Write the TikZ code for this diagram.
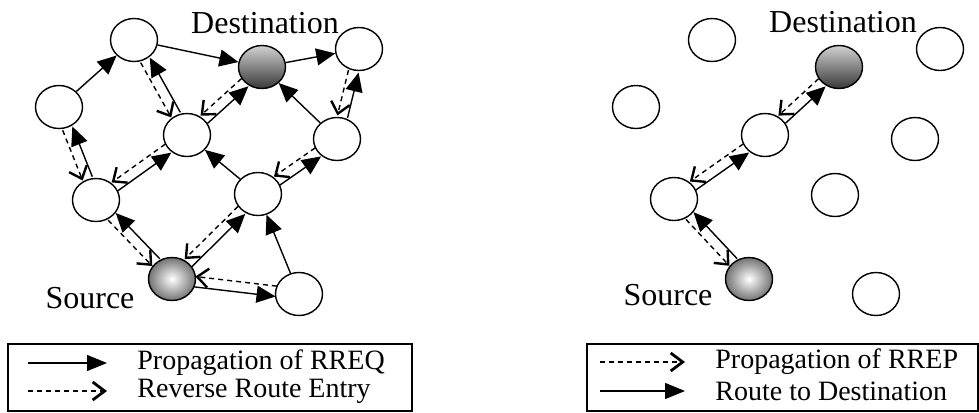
\documentclass[tikz,border=0pt]{standalone}
\usepackage{fontspec}
\setmainfont{Liberation Serif}
\usetikzlibrary{shapes.geometric,arrows.meta,calc}

\tikzset{
  host/.style={ellipse,draw,line width=0.7pt,minimum width=23.5pt,minimum height=21.5pt,inner sep=0pt},
  dest/.style={host,top color=black!18,bottom color=black!78},
  srce/.style={host,inner color=white,outer color=black!55},
  lbl/.style={inner sep=0pt,font=\fontsize{16}{18}\selectfont},
  key/.style={inner sep=0pt,anchor=west,font=\fontsize{14}{16}\selectfont},
  rreq/.style={line width=0.7pt,-{Triangle[length=9.5pt,width=8.5pt]}},
  rrev/.style={line width=0.7pt,dash pattern=on 2.5pt off 2pt,-{Straight Barb[length=5.5pt,width=9.5pt,line width=1.2pt]}},
  lane/.style={to path={($(\tikztostart)!#1!-90:(\tikztotarget)$) -- ($(\tikztotarget)!#1!90:(\tikztostart)$) \tikztonodes},
    shorten <=11.5pt,shorten >=11.5pt},
  lane/.default=2.6pt
}

\begin{document}
\begin{tikzpicture}[x=0.5pt,y=-0.5pt]
\useasboundingbox (0,0) rectangle (979,412);

% RREQ flooding
\node [host] (n1) at (134,40) {};
\node [host] (n2) at (59,107) {};
\node [dest] (dst) at (262,67) {};
\node [host] (n3) at (359,49) {};
\node [host] (n4) at (187,135) {};
\node [host] (n5) at (337,139) {};
\node [host] (n6) at (96,200) {};
\node [host] (n7) at (258,194) {};
\node [srce] (src) at (172,279) {};
\node [host] (n8) at (299,294) {};
\node [lbl] at (265,23) {Destination};
\node [lbl] at (90,298) {Source};

\draw [rreq] (n2) -- (n1);
\draw [rreq] (n1) -- (dst);
\draw [rreq] (dst) -- (n3);
\draw [rreq] (n5) -- (dst);
\draw [rreq] (n7) -- (n4);
\draw [rreq] (n8) -- (n7);
\foreach \a/\b in {n4/n1,n6/n2,n4/dst,n5/n3,n6/n4,n7/n5,src/n6,src/n7,src/n8}{
  \draw [rreq,lane] (\a) to (\b);
  \draw [rrev,lane] (\b) to (\a);
}

% RREP along the reverse route
\node [host] (m1) at (712,40) {};
\node [dest] (dst2) at (839,67) {};
\node [host] (m2) at (940,49) {};
\node [host] (m3) at (636,107) {};
\node [host] (m4) at (765,135) {};
\node [host] (m5) at (915,139) {};
\node [host] (m6) at (674,199) {};
\node [host] (m7) at (835,195) {};
\node [srce] (src2) at (749,279) {};
\node [host] (m8) at (876,294) {};
\node [lbl] at (843,22) {Destination};
\node [lbl] at (668,295) {Source};

\foreach \a/\b in {m4/dst2,m6/m4,src2/m6}{
  \draw [rreq,lane] (\a) to (\b);
  \draw [rrev,lane] (\b) to (\a);
}

% legends
\draw [line width=1pt] (8,344) rectangle (412,410.5);
\coordinate (k1a) at (28,363);
\coordinate (k1b) at (107,363);
\coordinate (k2a) at (28,391);
\coordinate (k2b) at (107,391);
\draw [rreq,-{Triangle[length=10pt,width=8pt]}] (k1a) -- (k1b);
\draw [rrev,-{Straight Barb[length=6pt,width=9pt,line width=1.4pt]}] (k2a) -- (k2b);
\node [key] at (137,363) {Propagation of RREQ};
\node [key] at (137,391) {Reverse Route Entry};

\draw [line width=1pt] (587,344) rectangle (978,410.5);
\coordinate (k3a) at (600,362);
\coordinate (k3b) at (685,362);
\coordinate (k4a) at (600,391);
\coordinate (k4b) at (685,391);
\draw [rrev,-{Straight Barb[length=6pt,width=9pt,line width=1.4pt]}] (k3a) -- (k3b);
\draw [rreq,-{Triangle[length=10pt,width=8pt]}] (k4a) -- (k4b);
\node [key] at (715,362) {Propagation of RREP};
\node [key] at (715,391) {Route to Destination};
\end{tikzpicture}
\end{document}
